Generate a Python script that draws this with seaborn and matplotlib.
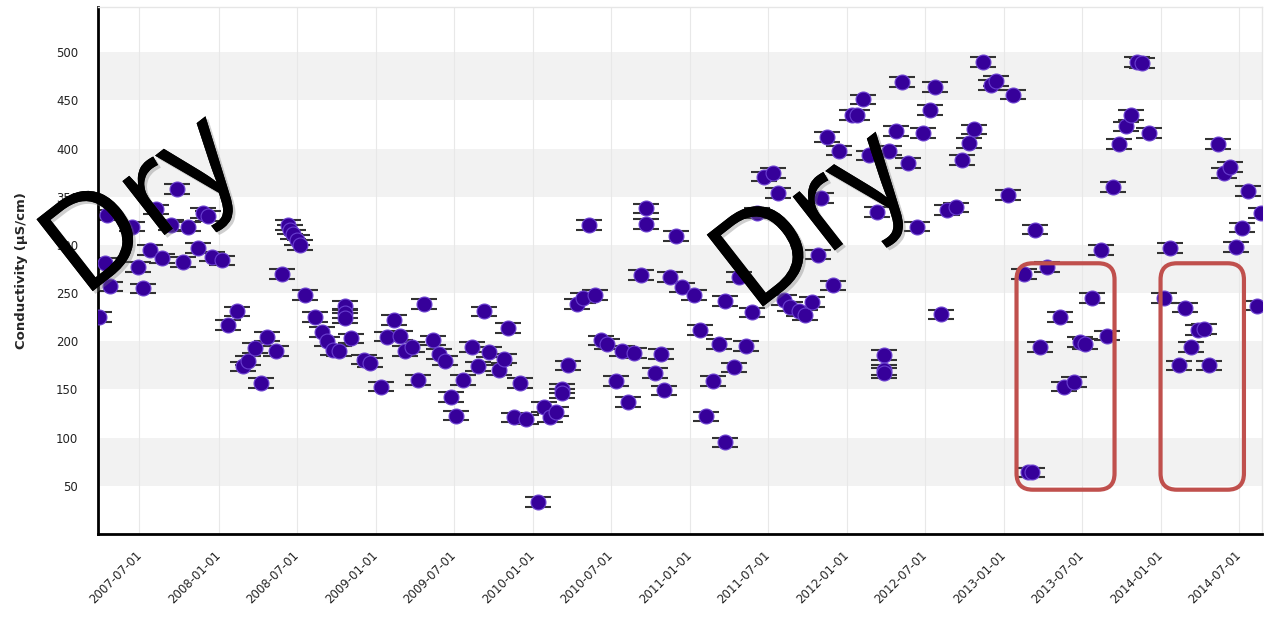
import pandas as pd
import numpy as np
import matplotlib.pyplot as plt
import matplotlib.dates as mdates
import matplotlib.patheffects as pe
from matplotlib.patches import FancyBboxPatch
import seaborn as sns

# sample dates as decimal years, conductivity in uS/cm
sample_year = [
    2007.241, 2007.277, 2007.288, 2007.309, 2007.446, 2007.489, 2007.519, 2007.564,
    2007.604, 2007.637, 2007.694, 2007.734, 2007.771, 2007.808, 2007.868, 2007.903,
    2007.935, 2007.957, 2008.019, 2008.059, 2008.116, 2008.158, 2008.190, 2008.232,
    2008.271, 2008.307, 2008.363, 2008.403, 2008.441, 2008.455, 2008.475, 2008.497,
    2008.519, 2008.551, 2008.611, 2008.657, 2008.688, 2008.729, 2008.768, 2008.806,
    2008.806, 2008.806, 2008.844, 2008.922, 2008.961, 2009.035, 2009.071, 2009.113,
    2009.152, 2009.188, 2009.231, 2009.266, 2009.304, 2009.364, 2009.400, 2009.438,
    2009.481, 2009.513, 2009.553, 2009.611, 2009.650, 2009.687, 2009.720, 2009.782,
    2009.818, 2009.841, 2009.878, 2009.916, 2009.957, 2010.032, 2010.069, 2010.108,
    2010.146, 2010.186, 2010.186, 2010.223, 2010.280, 2010.322, 2010.358, 2010.396,
    2010.434, 2010.473, 2010.532, 2010.570, 2010.606, 2010.646, 2010.691, 2010.723,
    2010.723, 2010.780, 2010.818, 2010.838, 2010.876, 2010.914, 2010.950, 2011.029,
    2011.067, 2011.105, 2011.145, 2011.184, 2011.222, 2011.222, 2011.279, 2011.311,
    2011.358, 2011.395, 2011.428, 2011.470, 2011.529, 2011.564, 2011.602, 2011.640,
    2011.693, 2011.736, 2011.778, 2011.818, 2011.834, 2011.874, 2011.911, 2011.948,
    2012.033, 2012.065, 2012.103, 2012.139, 2012.192, 2012.239, 2012.239, 2012.239,
    2012.271, 2012.315, 2012.352, 2012.387, 2012.447, 2012.485, 2012.527, 2012.564,
    2012.600, 2012.638, 2012.694, 2012.734, 2012.776, 2012.812, 2012.869, 2012.914,
    2012.946, 2013.022, 2013.059, 2013.126, 2013.153, 2013.175, 2013.196, 2013.232,
    2013.271, 2013.354, 2013.385, 2013.445, 2013.483, 2013.519, 2013.562, 2013.615,
    2013.653, 2013.694, 2013.731, 2013.774, 2013.806, 2013.848, 2013.880, 2013.922,
    2014.018, 2014.056, 2014.118, 2014.152, 2014.192, 2014.237, 2014.273, 2014.305,
    2014.364, 2014.400, 2014.438, 2014.479, 2014.517, 2014.555, 2014.613, 2014.638,
]
conductivity = [
    225, 281, 331, 257, 319, 277, 255, 295,
    337, 286, 321, 358, 282, 319, 297, 333,
    330, 288, 284, 217, 231, 174, 180, 193,
    157, 205, 190, 270, 321, 316, 311, 305,
    300, 248, 225, 210, 200, 191, 190, 237,
    229, 224, 203, 181, 178, 153, 205, 222,
    206, 190, 194, 160, 239, 201, 187, 180,
    142, 123, 160, 194, 174, 231, 189, 170,
    182, 214, 121, 157, 119, 33, 132, 121,
    127, 151, 146, 175, 239, 245, 321, 248,
    201, 197, 159, 190, 137, 188, 269, 338,
    322, 167, 187, 149, 267, 309, 256, 248,
    212, 122, 159, 197, 242, 95, 173, 267,
    195, 230, 333, 371, 375, 354, 243, 236,
    231, 227, 241, 290, 349, 412, 258, 398,
    435, 435, 451, 393, 334, 186, 170, 167,
    398, 418, 469, 385, 319, 416, 440, 464,
    228, 336, 339, 388, 406, 420, 490, 466,
    470, 352, 456, 270, 64, 64, 316, 194,
    277, 225, 153, 158, 199, 197, 245, 295,
    206, 360, 405, 423, 435, 490, 489, 416,
    245, 297, 175, 235, 194, 212, 213, 175,
    405, 375, 381, 298, 318, 356, 237, 333,
]
meas_error = 5

tick_dates = ['2007-07-01', '2008-01-01', '2008-07-01', '2009-01-01', '2009-07-01',
              '2010-01-01', '2010-07-01', '2011-01-01', '2011-07-01', '2012-01-01',
              '2012-07-01', '2013-01-01', '2013-07-01', '2014-01-01', '2014-07-01']
y_ticks = [50, 100, 150, 200, 250, 300, 350, 400, 450, 500]

# highlighted periods (start, end, low, high)
highlight_boxes = [('2013-01-30', '2013-09-15', 46, 281),
                   ('2013-12-31', '2014-07-13', 46, 281)]

# "Dry" annotations (date, value)
dry_labels = [('2007-07-13', 338), ('2011-10-19', 322)]


def to_date(t):
    yr = int(t)
    start = pd.Timestamp(yr, 1, 1)
    days = (pd.Timestamp(yr + 1, 1, 1) - start).days
    return start + pd.Timedelta(days=(t - yr) * days)


df = pd.DataFrame({'date': [to_date(t) for t in sample_year],
                   'conductivity': conductivity})

sns.set_style('white')
plt.rcParams['font.family'] = ['DejaVu Sans']

fig = plt.figure(figsize=(12.7, 6.24), dpi=100)
ax = fig.add_axes([0.077, 0.1442, 0.9167, 0.8446])

# alternating grey bands
for lo in range(50, 500, 100):
    ax.axhspan(lo, lo + 50, color='#f2f2f2', zorder=0, lw=0)

ax.errorbar(df['date'], df['conductivity'], yerr=meas_error, fmt='none',
            ecolor='#333333', elinewidth=1.2, capsize=9.5, capthick=1.5, zorder=2)
sns.scatterplot(data=df, x='date', y='conductivity', ax=ax, s=115,
                color='#36009a', edgecolor='#6a3fd0', linewidth=0.8, zorder=3)

ax.set_ylim(0, 547)
ax.set_xlim(pd.Timestamp('2007-03-26'), pd.Timestamp('2014-08-24'))
ax.set_yticks(y_ticks)
ax.set_yticklabels([str(v) for v in y_ticks], fontsize=8.5, color='#222222')
ax.set_xticks(pd.to_datetime(tick_dates))
ax.set_xticklabels(tick_dates, rotation=45, ha='right', va='center',
                   rotation_mode='anchor', fontsize=8.5, color='#222222')
ax.tick_params(axis='y', direction='out', length=8, width=1, color='#333333', pad=6)
ax.tick_params(axis='x', direction='out', length=11, width=1, color='#333333', pad=3)
ax.xaxis.grid(True, color='#e8e8e8', lw=0.8)
ax.yaxis.grid(False)
ax.set_axisbelow(True)

for side in ['top', 'right']:
    ax.spines[side].set_color('#e6e6e6')
    ax.spines[side].set_linewidth(1)
for side in ['left', 'bottom']:
    ax.spines[side].set_color('black')
    ax.spines[side].set_linewidth(2)

ax.set_xlabel('')
ax.set_ylabel('Conductivity (µS/cm)', fontsize=9.5, fontweight='bold', labelpad=20)

# red rounded highlight boxes
x_px_per_day = 0.4298
y_px_per_unit = 0.964
for start, end, lo, hi in highlight_boxes:
    x0 = mdates.date2num(pd.Timestamp(start))
    x1 = mdates.date2num(pd.Timestamp(end))
    box = FancyBboxPatch((x0, lo), x1 - x0, hi - lo,
                         boxstyle='round,pad=0,rounding_size=38',
                         mutation_aspect=x_px_per_day / y_px_per_unit,
                         fill=False, edgecolor='#c0504d', linewidth=3, zorder=5)
    ax.add_patch(box)

# "Dry" labels
shadow = [pe.withSimplePatchShadow(offset=(2, -2), shadow_rgbFace='#777777', alpha=0.35),
          pe.Normal()]
for day, val in dry_labels:
    ax.text(pd.Timestamp(day), val, 'Dry', fontsize=92, family='Open Sans',
            rotation=38, ha='center', va='center', color='black', zorder=6,
            path_effects=shadow)

fig.savefig('out.png', dpi=100)
